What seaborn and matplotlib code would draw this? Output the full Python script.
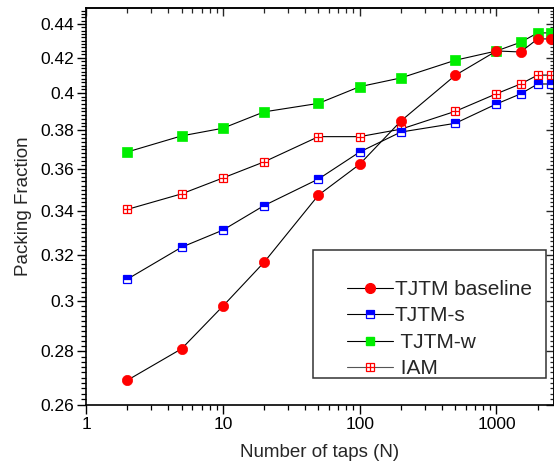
import numpy as np
import pandas as pd
import matplotlib
matplotlib.use("Agg")
import matplotlib.pyplot as plt
import seaborn as sns
from matplotlib.lines import Line2D
from matplotlib.patches import Rectangle
from matplotlib.ticker import FixedLocator, NullFormatter, FuncFormatter, LogLocator

taps = [2, 5, 10, 20, 50, 100, 200, 500, 1000, 1500, 2000, 2500]
baseline = [0.269, 0.281, 0.298, 0.3166, 0.3474, 0.3625, 0.3848, 0.4099, 0.4239, 0.4233, 0.431, 0.431]
tjtm_s = [0.3093, 0.3233, 0.331, 0.3424, 0.3552, 0.3687, 0.379, 0.3836, 0.394, 0.3995, 0.405, 0.405]
tjtm_w = [0.3687, 0.377, 0.381, 0.3897, 0.3943, 0.4035, 0.4084, 0.4185, 0.4239, 0.429, 0.4346, 0.4346]
iam = [0.3406, 0.348, 0.3557, 0.3637, 0.3766, 0.3766, 0.3805, 0.390, 0.3996, 0.405, 0.410, 0.410]
y_ticks = [0.26, 0.28, 0.30, 0.32, 0.34, 0.36, 0.38, 0.40, 0.42, 0.44]
x_ticks = [1, 10, 100, 1000]
labels = ["TJTM baseline", "TJTM-s", " TJTM-w", " IAM"]

sns.set_theme(style="ticks")
plt.rcParams["font.family"] = ["Liberation Sans", "DejaVu Sans"]

df = pd.DataFrame({"N": taps, "baseline": baseline, "s": tjtm_s, "w": tjtm_w, "iam": iam})

fig = plt.figure(figsize=(5.54, 4.70), dpi=100)
ax = fig.add_axes([86 / 554, 1 - 405 / 470, 467.5 / 554, 397 / 470])

line_kw = dict(color="black", linewidth=0.8, sort=False, estimator=None)

sns.lineplot(data=df, x="N", y="w", ax=ax, marker="s", markersize=6.6,
             markerfacecolor="#00ee00", markeredgecolor="#00ee00", markeredgewidth=0.5, **line_kw)
sns.lineplot(data=df, x="N", y="iam", ax=ax, marker="s", markersize=6.0,
             markerfacecolor="white", markeredgecolor="red", markeredgewidth=0.9, **line_kw)
ax.plot(df["N"], df["iam"], linestyle="none", marker="+", markersize=6.0,
        markeredgecolor="red", markeredgewidth=0.9)
sns.lineplot(data=df, x="N", y="s", ax=ax, marker="s", markersize=6.0, fillstyle="top",
             markerfacecolor="blue", markerfacecoloralt="white", markeredgecolor="blue",
             markeredgewidth=0.9, **line_kw)
sns.lineplot(data=df, x="N", y="baseline", ax=ax, marker="o", markersize=7.4,
             markerfacecolor="red", markeredgecolor="red", markeredgewidth=0.5, **line_kw)

ax.set_xscale("log")
ax.set_yscale("log")
ax.set_xlim(1, 2610)
ax.set_ylim(0.26, 0.4498)

minor_y = np.round(np.arange(0.26, 0.45, 0.002), 3)
ax.yaxis.set_major_locator(FixedLocator(y_ticks))
ax.yaxis.set_major_formatter(FuncFormatter(lambda v, p: f"{v:g}"))
ax.yaxis.set_minor_locator(FixedLocator(minor_y))
ax.yaxis.set_minor_formatter(NullFormatter())
ax.xaxis.set_major_locator(FixedLocator(x_ticks))
ax.xaxis.set_major_formatter(FuncFormatter(lambda v, p: f"{v:g}"))
ax.xaxis.set_minor_formatter(NullFormatter())

ax.tick_params(which="major", direction="out", length=6.5, width=1.0, labelsize=12.5,
               colors="black", pad=2)
ax.tick_params(which="minor", direction="out", length=3.3, width=0.9, colors="black")

for sp in ax.spines.values():
    sp.set_visible(True)
    sp.set_linewidth(1.2)
    sp.set_color("black")

# inward ticks on the top and right frames
top = ax.secondary_xaxis("top")
top.set_xticks(x_ticks)
top.xaxis.set_minor_locator(LogLocator(subs=np.arange(2, 10)))
top.tick_params(which="major", direction="in", length=5.5, width=1.0, labeltop=False)
top.tick_params(which="minor", direction="in", length=3.3, width=0.9)
top.spines["top"].set_linewidth(1.2)

right = ax.secondary_yaxis("right")
right.yaxis.set_major_locator(FixedLocator(y_ticks))
right.yaxis.set_minor_locator(FixedLocator(minor_y))
right.tick_params(which="major", direction="in", length=5.5, width=1.0, labelright=False)
right.tick_params(which="minor", direction="in", length=3.0, width=0.9, labelright=False)
right.yaxis.set_minor_formatter(NullFormatter())
right.spines["right"].set_linewidth(1.2)

ax.set_xlabel("Number of taps (N)", fontsize=13.5, labelpad=9)
ax.set_ylabel("Packing Fraction", fontsize=13.5, labelpad=6)

h_base = Line2D([], [], color="black", lw=0.8, marker="o", markersize=7.0,
                markerfacecolor="red", markeredgecolor="red")
h_s = Line2D([], [], color="black", lw=0.8, marker="s", markersize=5.5, fillstyle="top",
             markerfacecolor="blue", markerfacecoloralt="white", markeredgecolor="blue",
             markeredgewidth=0.9)
h_w = Line2D([], [], color="black", lw=0.8, marker="s", markersize=6.0,
             markerfacecolor="#00ee00", markeredgecolor="#00ee00")
h_iam_sq = Line2D([], [], color="#555555", lw=0.8, marker="s", markersize=5.5,
                  markerfacecolor="white", markeredgecolor="red", markeredgewidth=0.9)
h_iam_plus = Line2D([], [], linestyle="none", marker="+", markersize=5.5,
                    markeredgecolor="red", markeredgewidth=0.9)

# legend frame with extra room on the left and top
ax.add_patch(Rectangle((0.4856, 0.068), 0.4984, 0.322, transform=ax.transAxes,
                       facecolor="white", edgecolor="#333333", linewidth=1.1, zorder=4))

leg = ax.legend([h_base, h_s, h_w, (h_iam_sq, h_iam_plus)], labels,
                loc="upper left", bbox_to_anchor=(0.558, 0.315),
                fontsize=15, frameon=False, handlelength=2.2, handletextpad=0.1,
                labelspacing=0.36, borderpad=0.0, borderaxespad=0.0)
leg.set_zorder(5)

fig.savefig("out.png", dpi=100)
